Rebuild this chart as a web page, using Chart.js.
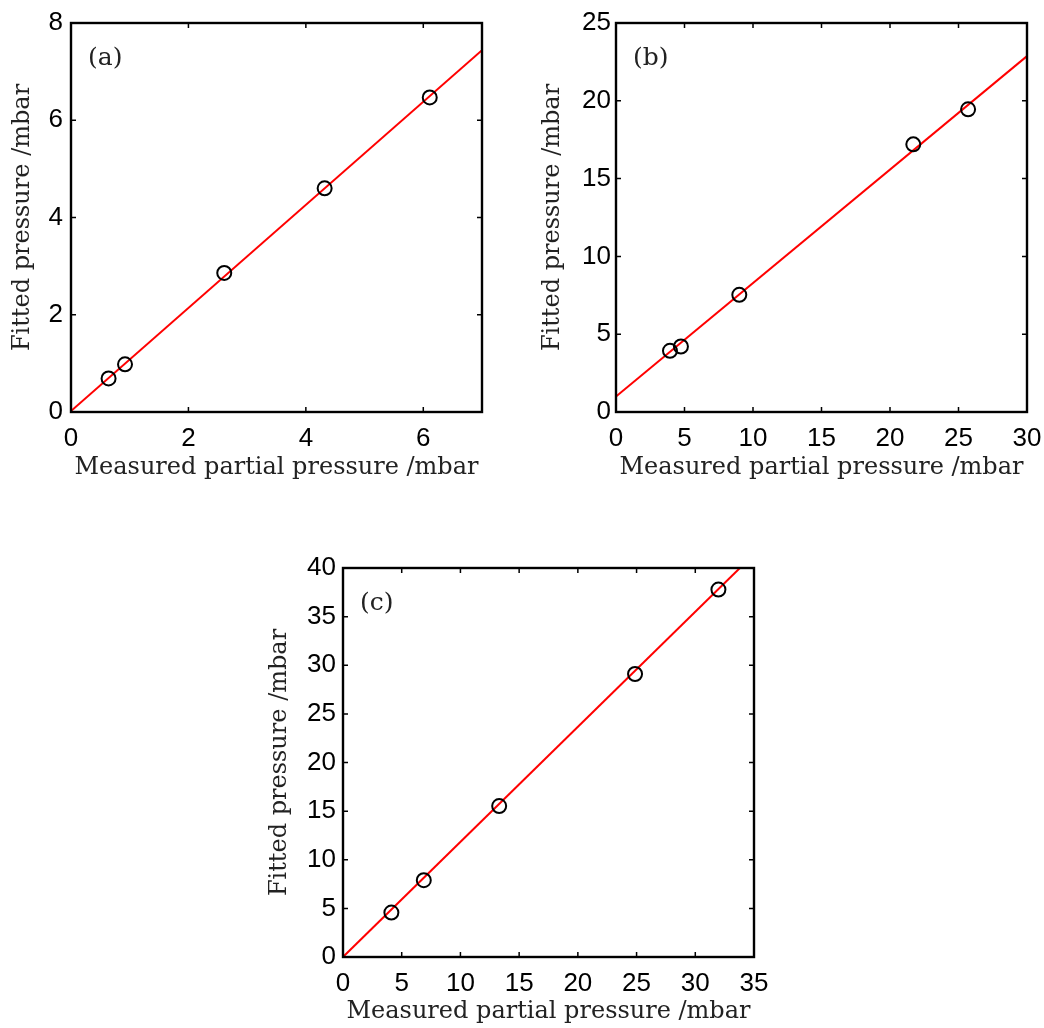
<!DOCTYPE html>
<html lang="en">
<head>
    <meta charset="UTF-8">
    <title>Fitted vs measured pressure</title>
    <script src="https://cdn.jsdelivr.net/npm/chart.js"></script>
    <style>
        body { margin: 0; background: #fff; }
        .wrap { position: relative; width: 1044px; height: 1028px; }
        canvas { position: absolute; }
        #panelA { left: 0; top: 0; }
        #panelB { left: 530px; top: 0; }
        #panelC { left: 250px; top: 540px; }
    </style>
</head>
<body>
    <div class="wrap">
        <canvas id="panelA" width="520" height="490"></canvas>
        <canvas id="panelB" width="514" height="490"></canvas>
        <canvas id="panelC" width="540" height="488"></canvas>
    </div>

    <script>
        // (a)
        const measuredA = [0.64, 0.92, 2.61, 4.32, 6.11];
        const fittedA = [0.69, 0.98, 2.86, 4.60, 6.47];
        const fitLineAX = [0, 7];
        const fitLineAY = [0.02, 7.44];
        const xTicksA = [0, 2, 4, 6];
        const yTicksA = [0, 2, 4, 6, 8];

        // (b)
        const measuredB = [3.94, 4.74, 9.0, 21.7, 25.7];
        const fittedB = [3.93, 4.21, 7.53, 17.2, 19.45];
        const fitLineBX = [0, 30];
        const fitLineBY = [1.0, 22.87];
        const xTicksB = [0, 5, 10, 15, 20, 25, 30];
        const yTicksB = [0, 5, 10, 15, 20, 25];

        // (c)
        const measuredC = [4.12, 6.88, 13.3, 24.87, 31.97];
        const fittedC = [4.57, 7.9, 15.52, 29.1, 37.78];
        const fitLineCX = [0, 33.8];
        const fitLineCY = [0, 40];
        const xTicksC = [0, 5, 10, 15, 20, 25, 30, 35];
        const yTicksC = [0, 5, 10, 15, 20, 25, 30, 35, 40];

        const xTitle = "Measured partial pressure /mbar";
        const yTitle = "Fitted pressure /mbar";

        const tickFont = { family: "'Liberation Sans', Arial, sans-serif", size: 26 };
        const titleFont = { family: "'DejaVu Serif', serif", size: 24 };

        function toPoints(xs, ys) {
            return xs.map((x, i) => ({ x: x, y: ys[i] }));
        }

        // box round the plot with inward ticks on all four sides, plus the panel tag
        const framePlugin = {
            id: "frame",
            afterDraw(chart, args, opts) {
                const ctx = chart.ctx;
                const a = chart.chartArea;
                const xs = chart.scales.x, ys = chart.scales.y;
                const len = 5;
                ctx.save();
                ctx.strokeStyle = "#000";
                ctx.lineWidth = 1.5;
                ctx.beginPath();
                xs.ticks.forEach(t => {
                    const px = xs.getPixelForValue(t.value);
                    ctx.moveTo(px, a.bottom); ctx.lineTo(px, a.bottom - len);
                    ctx.moveTo(px, a.top); ctx.lineTo(px, a.top + len);
                });
                ys.ticks.forEach(t => {
                    const py = ys.getPixelForValue(t.value);
                    ctx.moveTo(a.left, py); ctx.lineTo(a.left + len, py);
                    ctx.moveTo(a.right, py); ctx.lineTo(a.right - len, py);
                });
                ctx.stroke();
                ctx.lineWidth = 2.4;
                ctx.strokeRect(a.left, a.top, a.right - a.left, a.bottom - a.top);

                ctx.fillStyle = "#222";
                ctx.font = "25px 'DejaVu Serif', serif";
                ctx.textBaseline = "middle";
                ctx.textAlign = "left";
                ctx.fillText(opts.tag, a.left + 17, a.top + 35);
                ctx.restore();
            }
        };

        function makePanel(id, p) {
            new Chart(document.getElementById(id), {
                type: "scatter",
                data: {
                    datasets: [
                        {
                            data: toPoints(p.mx, p.fy),
                            showLine: false,
                            pointStyle: "circle",
                            pointRadius: 7,
                            pointBorderWidth: 2,
                            pointBorderColor: "#000",
                            pointBackgroundColor: "rgba(0,0,0,0)",
                            order: 0
                        },
                        {
                            data: toPoints(p.lx, p.ly),
                            showLine: true,
                            pointRadius: 0,
                            borderColor: "#ff0000",
                            borderWidth: 2,
                            order: 1
                        }
                    ]
                },
                options: {
                    responsive: false,
                    animation: false,
                    events: [],
                    layout: { padding: { left: 0, top: p.padTop, right: p.padRight, bottom: 0 } },
                    plugins: {
                        legend: { display: false },
                        tooltip: { enabled: false },
                        frame: { tag: p.tag }
                    },
                    scales: {
                        x: {
                            type: "linear",
                            min: 0,
                            max: p.xMax,
                            grid: { display: false, drawTicks: false },
                            border: { display: false },
                            ticks: { font: tickFont, color: "#000", padding: 11, maxRotation: 0, autoSkip: false },
                            afterBuildTicks: s => { s.ticks = p.xTicks.map(v => ({ value: v })); },
                            afterFit: s => {
                                s.height = p.xHeight;
                                s.paddingLeft = 0;
                                s.paddingRight = 0;
                            },
                            title: { display: true, text: xTitle, font: titleFont, color: "#222", padding: { top: 0, bottom: p.xTitlePad } }
                        },
                        y: {
                            type: "linear",
                            min: 0,
                            max: p.yMax,
                            grid: { display: false, drawTicks: false },
                            border: { display: false },
                            ticks: { font: tickFont, color: "#000", padding: p.yTickPad, autoSkip: false },
                            afterBuildTicks: s => { s.ticks = p.yTicks.map(v => ({ value: v })); },
                            afterFit: s => {
                                s.width = p.yWidth;
                                s.paddingTop = 0;
                                s.paddingBottom = 0;
                            },
                            title: { display: true, text: yTitle, font: titleFont, color: "#222", padding: { top: p.yTitlePad, bottom: 0 } }
                        }
                    }
                },
                plugins: [framePlugin]
            });
        }

        makePanel("panelA", {
            tag: "(a)", mx: measuredA, fy: fittedA, lx: fitLineAX, ly: fitLineAY,
            xMax: 7, yMax: 8, xTicks: xTicksA, yTicks: yTicksA,
            padTop: 23, padRight: 38, xHeight: 78, yWidth: 71,
            xTitlePad: 8, yTitlePad: 8, yTickPad: 8
        });
        makePanel("panelB", {
            tag: "(b)", mx: measuredB, fy: fittedB, lx: fitLineBX, ly: fitLineBY,
            xMax: 30, yMax: 25, xTicks: xTicksB, yTicks: yTicksB,
            padTop: 23, padRight: 17, xHeight: 78, yWidth: 86,
            xTitlePad: 8, yTitlePad: 8, yTickPad: 5
        });
        makePanel("panelC", {
            tag: "(c)", mx: measuredC, fy: fittedC, lx: fitLineCX, ly: fitLineCY,
            xMax: 35, yMax: 40, xTicks: xTicksC, yTicks: yTicksC,
            padTop: 28, padRight: 36, xHeight: 71, yWidth: 93,
            xTitlePad: 2, yTitlePad: 15, yTickPad: 7
        });
    </script>
</body>
</html>
